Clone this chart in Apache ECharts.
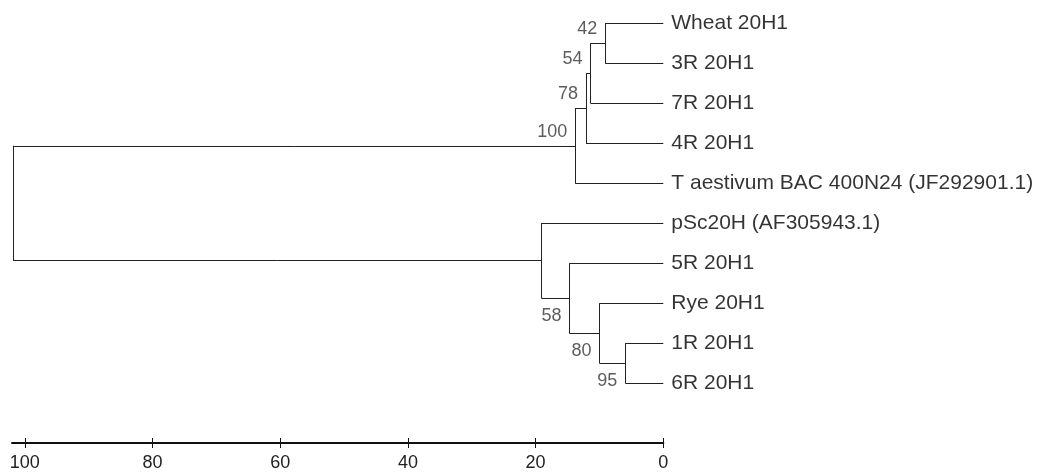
<!DOCTYPE html>
<html>
<head>
<meta charset="utf-8">
<script src="https://cdn.jsdelivr.net/npm/echarts@6/dist/echarts.min.js"></script>
<style>
html,body{margin:0;padding:0;background:#fff;}
#chart{width:1042px;height:472px;}
</style>
</head>
<body>
<div id="chart"></div>
<script>
// Leaves, top to bottom
const leaves = ['Wheat 20H1', '3R 20H1', '7R 20H1', '4R 20H1',
  'T aestivum BAC 400N24 (JF292901.1)', 'pSc20H (AF305943.1)',
  '5R 20H1', 'Rye 20H1', '1R 20H1', '6R 20H1'];
// Internal nodes (index = 10 + position); children refer to leaf or node indices
const nodeChildren = [[0, 1], [10, 2], [11, 3], [12, 4], [8, 9], [7, 14], [6, 15], [5, 16], [13, 17]];
const nodeHeights = [9.1, 11.4, 12.1, 13.8, 5.95, 10.0, 14.7, 19.1, 101.8];
const bootstrap = [42, 54, 78, 100, 95, 80, 58, null, null];
const tickValues = [0, 20, 40, 60, 80, 100];

const nL = leaves.length;
const yPos = [], hPos = [];
leaves.forEach((_, i) => { yPos[i] = i; hPos[i] = 0; });
const parentOf = {};
nodeChildren.forEach((ch, k) => {
  const id = nL + k;
  yPos[id] = (yPos[ch[0]] + yPos[ch[ch.length - 1]]) / 2;
  hPos[id] = nodeHeights[k];
  ch.forEach((c, j) => { parentOf[c] = { p: id, first: j === 0 }; });
});

const segs = [];
nodeChildren.forEach((ch, k) => {
  const id = nL + k, h = hPos[id];
  segs.push({ coords: [[h, yPos[ch[0]]], [h, yPos[ch[ch.length - 1]]]] });
  ch.forEach(c => segs.push({ coords: [[h, yPos[c]], [hPos[c], yPos[c]]] }));
});

const leafPts = leaves.map((name, i) => ({ value: [0, i], name: name }));
const bsPts = [];
nodeChildren.forEach((ch, k) => {
  if (bootstrap[k] == null) return;
  const id = nL + k;
  const above = parentOf[id] ? parentOf[id].first : true;
  bsPts.push({
    value: [hPos[id], yPos[id]],
    name: String(bootstrap[k]),
    label: { offset: [0, above ? -14 : 18] }
  });
});

const chart = echarts.init(document.getElementById('chart'), null, { renderer: 'canvas' });
const baseX = {
  type: 'value', min: 0, max: 102, inverse: true, interval: 20,
  position: 'bottom', gridIndex: 0,
  splitLine: { show: false }
};
chart.setOption({
  animation: false,
  backgroundColor: '#fff',
  grid: { left: 12, right: 378.7, top: 23.3, bottom: 27 },
  xAxis: [
    Object.assign({}, baseX, {
      offset: 0,
      axisLine: { show: true, onZero: false, lineStyle: { color: '#111', width: 2 } },
      axisTick: { show: false },
      axisLabel: { show: true, customValues: tickValues, margin: 11, color: '#222', fontSize: 18, fontFamily: 'Liberation Sans' }
    }),
    Object.assign({}, baseX, {
      offset: -5,
      axisLine: { show: false, onZero: false },
      axisTick: { show: true, customValues: tickValues, length: 10, inside: false, lineStyle: { color: '#111', width: 1 } },
      axisLabel: { show: false }
    })
  ],
  yAxis: { type: 'value', min: 0, max: 10.495, inverse: true, show: false },
  series: [
    {
      type: 'lines', coordinateSystem: 'cartesian2d', silent: true,
      lineStyle: { color: '#222', width: 1, opacity: 1 },
      data: segs
    },
    {
      type: 'scatter', symbolSize: 0, silent: true, data: leafPts,
      label: {
        show: true, position: 'right', distance: 8, formatter: p => p.name,
        color: '#000', fontSize: 21, fontFamily: 'Liberation Sans'
      }
    },
    {
      type: 'scatter', symbolSize: 0, silent: true, data: bsPts,
      label: {
        show: true, position: 'left', distance: 8, formatter: p => p.name,
        color: '#333', fontSize: 18, fontFamily: 'Liberation Sans'
      }
    }
  ]
});
</script>
</body>
</html>
